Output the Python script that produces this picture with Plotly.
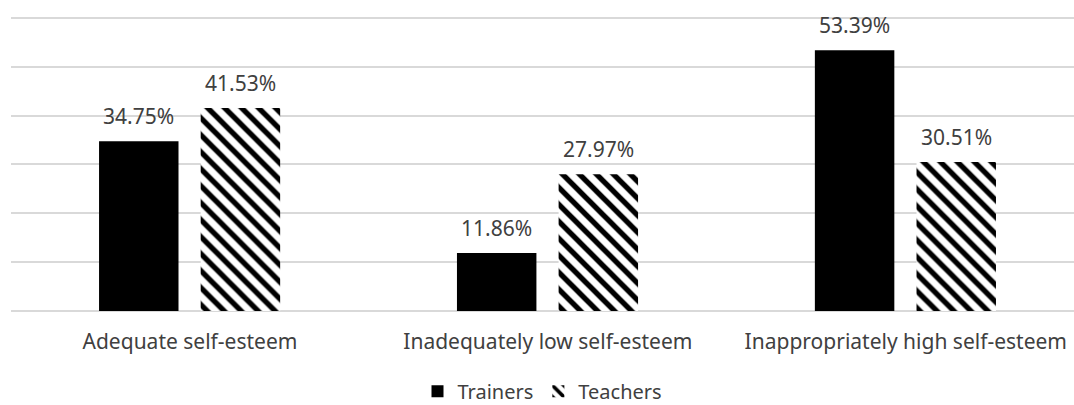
import plotly.graph_objects as go

categorias = ["Adequate self-esteem", "Inadequately low self-esteem", "Inappropriately high self-esteem"]
trainers = [34.75, 11.86, 53.39]
teachers = [41.53, 27.97, 30.51]

TEXTO = "#404040"
GRID = "#d9d9d9"
FUENTE = "Noto Sans"

posiciones = list(range(len(categorias)))
ancho = 0.222
desplaz = {"Trainers": -0.254, "Teachers": 0.03}

fig = go.Figure()

fig.add_trace(go.Bar(
    x=posiciones, y=trainers, name="Trainers",
    width=ancho, offset=desplaz["Trainers"],
    marker=dict(color="black", line=dict(width=0)),
))
fig.add_trace(go.Bar(
    x=posiciones, y=teachers, name="Teachers",
    width=ancho, offset=desplaz["Teachers"],
    marker=dict(color="white", line=dict(width=0),
                pattern=dict(shape="\\", fgcolor="black", bgcolor="white", fgopacity=1,
                             size=12, solidity=0.45, fillmode="replace")),
))

# etiquetas de valor sobre cada barra
for nombre, valores in (("Trainers", trainers), ("Teachers", teachers)):
    for i, v in enumerate(valores):
        fig.add_annotation(
            x=i + desplaz[nombre] + ancho / 2, y=v,
            text=f"{v:.2f}%", showarrow=False,
            yanchor="bottom", yshift=9,
            font=dict(family=FUENTE, size=21, color=TEXTO),
        )

fig.update_layout(
    width=1074, height=405,
    margin=dict(l=11, r=0, t=13, b=94, autoexpand=False),
    paper_bgcolor="white", plot_bgcolor="white",
    showlegend=True,
    legend=dict(orientation="h", x=0.5, xanchor="center", y=-0.335, yanchor="bottom",
                font=dict(family=FUENTE, size=20, color=TEXTO),
                itemwidth=30, tracegroupgap=0),
    font=dict(family=FUENTE, color=TEXTO),
)
fig.update_xaxes(
    range=[-0.5, 2.47], tickvals=posiciones, ticktext=categorias, automargin=False,
    tickfont=dict(family=FUENTE, size=21, color=TEXTO),
    showgrid=False, showline=False, zeroline=False,
    ticks="outside", ticklen=12, tickcolor="rgba(0,0,0,0)",
)
fig.update_yaxes(
    range=[0, 61], dtick=10, showticklabels=False, automargin=False,
    showgrid=True, gridcolor=GRID, gridwidth=2,
    zeroline=True, zerolinecolor=GRID, zerolinewidth=2, showline=False,
)

# quitar el margen por defecto del body para que la figura ocupe toda la ventana
fig.write_html("out.html", config={"displayModeBar": False},
               post_script="document.body.style.margin='0';")
